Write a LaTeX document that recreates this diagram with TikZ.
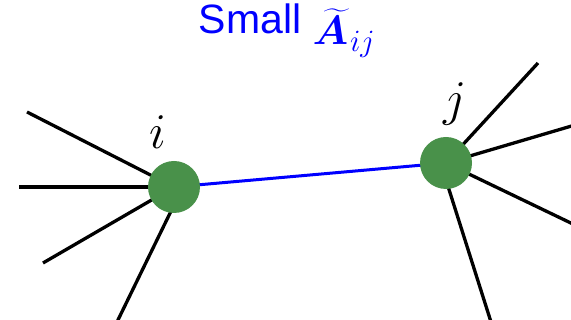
\RequirePackage{fix-cm}
\documentclass[tikz,border=0pt]{standalone}
\usepackage{amsmath}
\usepackage{bm}
\usepackage{fontspec}
\setmainfont{Liberation Sans}
\definecolor{nodegreen}{RGB}{73,145,74}
\begin{document}
\begin{tikzpicture}[x=1pt,y=-1pt,
  vertex/.style={circle,fill=nodegreen,minimum size=52pt,inner sep=0pt},
  spoke/.style={line width=3.3pt,black},
  link/.style={line width=3pt,blue},
  lbl/.style={font=\fontsize{50}{56}\selectfont,anchor=base,inner sep=0pt}]
\useasboundingbox (0,0) rectangle (571,320);
% coordinates
\coordinate (i) at (174,187);
\coordinate (j) at (446,163);
\coordinate (a1) at (27,112);
\coordinate (a2) at (19,187);
\coordinate (a3) at (43,263);
\coordinate (a4) at (117,322);
\coordinate (a4e) at (174,205);
\coordinate (b1) at (538,63);
\coordinate (b2) at (575,125);
\coordinate (b3) at (575,225);
\coordinate (b4) at (491,322);
\coordinate (b4e) at (446,180);
% spokes
\draw[spoke] (a1) -- (i);
\draw[spoke] (a2) -- (i);
\draw[spoke] (a3) -- (i);
\draw[spoke] (a4) -- (a4e);
\draw[spoke] (b1) -- (j);
\draw[spoke] (b2) -- (j);
\draw[spoke] (b3) -- (j);
\draw[spoke] (b4) -- (b4e);
\draw[link] (i) -- (j);
% vertices
\node[vertex] (ni) at (i) {};
\node[vertex] (nj) at (j) {};
% labels
\node[lbl] (li) at (158,149) {$i$};
\node[lbl] (lj) at (455,116) {$j$};
\node[anchor=base,inner sep=0pt,text=blue,font=\fontsize{41}{47}\selectfont] (title) at (287,34) {Small \raisebox{-11pt}{$\widetilde{\bm{A}}_{\mbox{\fontsize{31}{31}\selectfont$\mkern1mu ij$}}$}};
\end{tikzpicture}
\end{document}
